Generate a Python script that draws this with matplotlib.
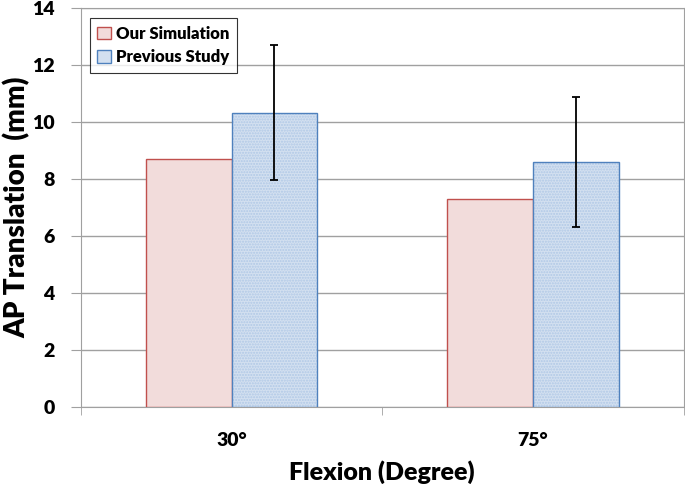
import numpy as np
import matplotlib.pyplot as plt
from matplotlib.patches import Patch

plt.rcParams['font.family'] = ['Lato', 'DejaVu Sans']
plt.rcParams['font.weight'] = 'bold'

# Daten
kategorien = ["30°", "75°"]
simulation = [8.7, 7.3]
studie = [10.33, 8.6]
studie_fehler = [2.37, 2.27]

fig = plt.figure(figsize=(6.85, 4.84), dpi=100)
ax = fig.add_axes([0.118, 0.159, 0.880, 0.824])

x = np.arange(len(kategorien))
breite = 0.285

ax.bar(x - breite / 2, simulation, breite, color="#f2dcdb",
       edgecolor="#c0504d", linewidth=1.0, zorder=3)
ax.bar(x + breite / 2, studie, breite, color="#d3e0f0",
       edgecolor="#b0c8e6", linewidth=0, hatch="......", zorder=3)
ax.bar(x + breite / 2, studie, breite, fill=False,
       edgecolor="#4f81bd", linewidth=1.0, zorder=4)
ax.errorbar(x + breite / 2, studie, yerr=studie_fehler, fmt="none",
            ecolor="black", elinewidth=1.3, capsize=3, capthick=1.3, zorder=5)

# Legende
griffe = [Patch(facecolor="#f2dcdb", edgecolor="#c0504d", label="Our Simulation"),
          Patch(facecolor="#d3e0f0", edgecolor="#4f81bd", label="Previous Study")]
leg = ax.legend(handles=griffe, loc="upper left", bbox_to_anchor=(0.015, 0.975),
                prop={"size": 12, "weight": "heavy"}, frameon=True, fancybox=False,
                handlelength=0.8, handleheight=0.8, handletextpad=0.3,
                borderpad=0.45, labelspacing=0.45, borderaxespad=0, edgecolor="black")
leg.get_frame().set_linewidth(0.8)

ax.set_xlim(-0.5, 1.5)
ax.set_ylim(0, 14)
ax.set_yticks(range(0, 15, 2))
ax.set_xticks(x)
ax.set_xticklabels(kategorien, fontsize=14, fontweight="heavy")
ax.set_xticks([-0.5, 0.5, 1.5], minor=True)
ax.tick_params(axis="x", which="major", length=0, pad=18)
ax.tick_params(axis="x", which="minor", length=6, color="#a0a0a0", direction="out")
ax.tick_params(axis="y", length=7, color="#a0a0a0", labelsize=14, pad=12)
for lab in ax.get_yticklabels():
    lab.set_fontweight("heavy")

ax.grid(True, axis="y", color="#a0a0a0", linewidth=1.0, zorder=0)
ax.set_axisbelow(True)
for s in ax.spines.values():
    s.set_color("#a0a0a0")

ax.set_ylabel("AP Translation  (mm)", fontsize=20, fontweight="heavy", va="center")
ax.yaxis.set_label_coords(-0.106, 0.5)
ax.set_xlabel("Flexion (Degree)", fontsize=18, fontweight="heavy", labelpad=8)

fig.savefig("out.png", dpi=100)
